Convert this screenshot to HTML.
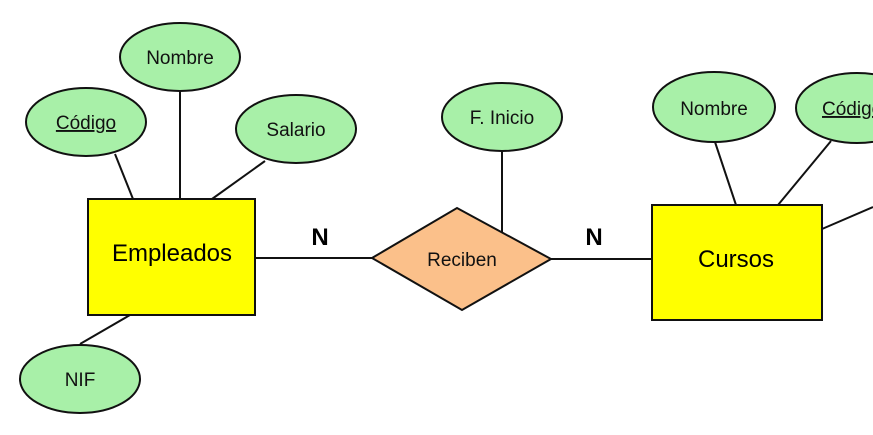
<!DOCTYPE html>
<html><head><meta charset="utf-8"><style>
html,body{margin:0;padding:0;background:#fff;width:873px;height:435px;overflow:hidden}
text{font-family:"Liberation Sans",Arial,sans-serif}
</style></head><body>
<svg width="873" height="435" viewBox="0 0 873 435" xmlns="http://www.w3.org/2000/svg">
<g stroke="#111" stroke-width="2" fill="none">
<line x1="115" y1="154" x2="133" y2="199"/>
<line x1="180" y1="91" x2="180" y2="199"/>
<line x1="265" y1="161" x2="212" y2="199"/>
<line x1="130" y1="315" x2="80" y2="344"/>
<line x1="255" y1="258" x2="372" y2="258"/>
<line x1="551" y1="259" x2="652" y2="259"/>
<line x1="502" y1="151" x2="502" y2="233"/>
<line x1="715" y1="142" x2="736" y2="205"/>
<line x1="831" y1="141" x2="778" y2="205"/>
<line x1="822" y1="229" x2="873" y2="207"/>
</g>
<g fill="#a8f0a8" stroke="#111" stroke-width="2">
<ellipse cx="180" cy="57" rx="60" ry="34"/>
<ellipse cx="86" cy="122" rx="60" ry="34"/>
<ellipse cx="296" cy="129" rx="60" ry="34"/>
<ellipse cx="80" cy="379" rx="60" ry="34"/>
<ellipse cx="502" cy="117" rx="60" ry="34"/>
<ellipse cx="714" cy="107" rx="61" ry="35"/>
<ellipse cx="857" cy="108" rx="61" ry="35"/>
</g>
<rect x="88" y="199" width="167" height="116" fill="#ffff00" stroke="#111" stroke-width="2"/>
<rect x="652" y="205" width="170" height="115" fill="#ffff00" stroke="#111" stroke-width="2"/>
<polygon points="372,258 457,208 551,259 462,310" fill="#fbc08a" stroke="#111" stroke-width="2"/>
<g font-size="19" fill="#111" text-anchor="middle">
<text x="180" y="64">Nombre</text>
<text x="86" y="129" text-decoration="underline">Código</text>
<text x="296" y="136">Salario</text>
<text x="80" y="386">NIF</text>
<text x="502" y="124">F. Inicio</text>
<text x="714" y="115">Nombre</text>
<text x="822" y="115" text-anchor="start" text-decoration="underline">Código</text>
<text x="462" y="266">Reciben</text>
</g>
<g font-size="24" fill="#000" text-anchor="middle">
<text x="172" y="261">Empleados</text>
<text x="736" y="267">Cursos</text>
</g>
<g font-size="24" font-weight="bold" fill="#000" text-anchor="middle">
<text x="320" y="245">N</text>
<text x="594" y="245">N</text>
</g>
</svg>
</body></html>
